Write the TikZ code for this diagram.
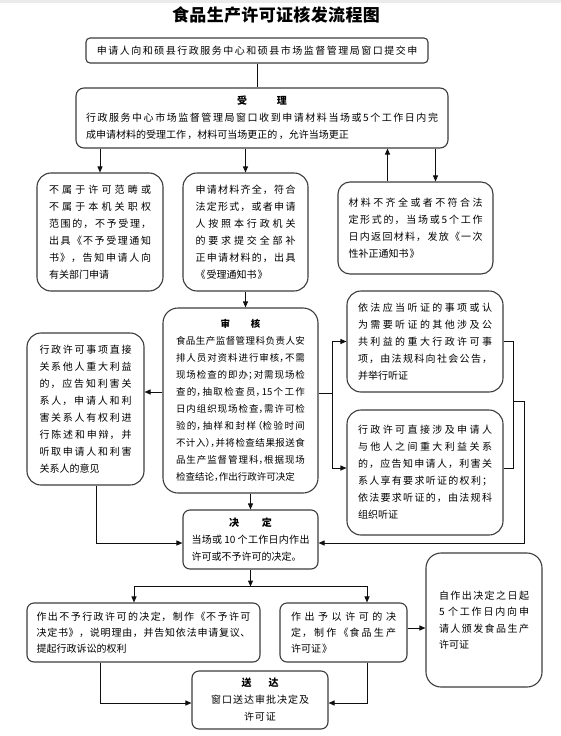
\documentclass[tikz,border=0pt]{standalone}
\usepackage{fontspec}
\usepackage{tikz}
\usetikzlibrary{arrows.meta, calc}
\newfontfamily\cjk[LetterSpace=10]{Noto Sans CJK SC}
\newfontfamily\cjkhalf[RawFeature={+halt}]{Noto Sans CJK SC}
\newcommand{\ls}[1]{\addfontfeature{LetterSpace=#1}}
\newcommand{\boxtitle}[1]{\makebox[\linewidth]{\bfseries #1}\\}
\XeTeXlinebreaklocale "zh"
\XeTeXlinebreakskip=0pt plus 10pt
\definecolor{FlowBorder}{RGB}{60,60,60}
\definecolor{FlowLine}{RGB}{15,15,15}

\begin{document}
\begin{tikzpicture}[
    x=1pt, y=-1pt,
    box/.style={draw=FlowBorder, line width=1.1pt, rounded corners=#1, inner sep=0pt, font=\cjk\fontsize{10}{17}\selectfont},
    box/.default=14pt,
    txt/.style={align=justify, text width=#1},
    arr/.style={-{Triangle[length=6pt, width=5pt]}, line width=0.9pt, FlowLine},
    lin/.style={line width=0.9pt, FlowLine}
]
    \useasboundingbox (0,0) rectangle (561,736);
    \fill[black!8] (0,0) rectangle (561,3);
    \node[font=\cjk\bfseries\fontsize{17}{20}\selectfont\ls{2}] (title) at (276,15) {食品生产许可证核发流程图};
    \node[box=4pt, minimum width=342pt, minimum height=25pt, font=\cjk\fontsize{10}{17}\selectfont\ls{15}] (apply) at (257,50.5) {申请人向和硕县行政服务中心和硕县市场监督管理局窗口提交申};
    \node[box=8pt, txt=352pt, minimum width=372pt, minimum height=60pt, font=\cjk\fontsize{10}{17}\selectfont\ls{14}] (accept) at (262,118)
        {\boxtitle{受\hspace{3em}理}行政服务中心市场监督管理局窗口收到申请材料当场或5个工作日内完\linebreak 成申请材料的受理工作，材料可当场更正的，允许当场更正};
    \node[box, txt=102pt, minimum width=126pt, minimum height=118pt] (reject) at (100,232)
        {不属于许可范畴或\linebreak 不属于本机关职权\linebreak 范围的，不予受理，\linebreak 出具《不予受理通知\linebreak 书》，告知申请人向\linebreak 有关部门申请};
    \node[box, txt=100pt, minimum width=125pt, minimum height=118pt] (accepted) at (245.5,232)
        {申请材料齐全，符合\linebreak 法定形式，或者申请\linebreak 人按照本行政机关\linebreak 的要求提交全部补\linebreak 正申请材料的，出具\linebreak 《受理通知书》};
    \node[box=12pt, txt=134pt, minimum width=155pt, minimum height=92pt] (incomplete) at (415.5,228)
        {材料不齐全或者不符合法\linebreak 定形式的，当场或5个工作\linebreak 日内返回材料，发放《一次\linebreak 性补正通知书》};
    \node[box=15pt, txt=129pt, minimum width=155pt, minimum height=185pt, font=\cjkhalf\fontsize{9.5}{17}\selectfont] (review) at (240.5,400.5)
        {\boxtitle{审\hspace{2.2em}核}食品生产监督管理科负责人安\linebreak 排人员对资料进行审核，不需\linebreak 现场检查的即办；对需现场检\linebreak 查的，抽取检查员，15个工作\linebreak 日内组织现场检查，需许可检\linebreak 验的，抽样和封样（检验时间\linebreak 不计入），并将检查结果报送食\linebreak 品生产监督管理科，根据现场\linebreak 检查结论，作出行政许可决定};
    \node[box, txt=92pt, minimum width=117pt, minimum height=152pt] (notice) at (85.5,409)
        {行政许可事项直接\linebreak 关系他人重大利益\linebreak 的，应告知利害关\linebreak 系人，申请人和利\linebreak 害关系人有权利进\linebreak 行陈述和申辩，并\linebreak 听取申请人和利害\linebreak 关系人的意见};
    \node[box, txt=134pt, minimum width=156pt, minimum height=101pt] (hearA) at (425,341.5)
        {依法应当听证的事项或认\linebreak 为需要听证的其他涉及公\linebreak 共利益的重大行政许可事\linebreak 项，由法规科向社会公告，\linebreak 并举行听证};
    \node[box, txt=134pt, minimum width=156pt, minimum height=125pt] (hearB) at (425,472.5)
        {行政许可直接涉及申请人\linebreak 与他人之间重大利益关系\linebreak 的，应告知申请人，利害关\linebreak 系人享有要求听证的权利；\linebreak 依法要求听证的，由法规科\linebreak 组织听证};
    \node[box=7pt, txt=118pt, minimum width=135pt, minimum height=59pt, font=\cjk\fontsize{10}{17}\selectfont\ls{0}] (decide) at (250.5,539.5)
        {\boxtitle{决\hspace{2.3em}定}当场或 10 个工作日内作出\linebreak 许可或不予许可的决定。};
    \node[box=7pt, txt=214pt, minimum width=233pt, minimum height=59pt, font=\cjk\fontsize{10}{16}\selectfont\ls{5}] (deny) at (143.5,632.5)
        {作出不予行政许可的决定，制作《不予许可\linebreak 决定书》，说明理由，并告知依法申请复议、\linebreak 提起行政诉讼的权利};
    \node[box=7pt, txt=105pt, minimum width=127pt, minimum height=59pt, font=\cjk\fontsize{10}{16}\selectfont] (grant) at (343.5,632.5)
        {作出予以许可的决\linebreak 定，制作《食品生产\linebreak 许可证》};
    \node[box=15pt, txt=90pt, minimum width=116pt, minimum height=134pt, font=\cjk\fontsize{10}{16.5}\selectfont] (issue) at (484,620)
        {自作出决定之日起\linebreak 5 个工作日内向申\linebreak 请人颁发食品生产\linebreak 许可证};
    \node[box=7pt, align=center, minimum width=136pt, minimum height=58pt] (deliver) at (260,700)
        {{\bfseries 送\hspace{1.7em}达}\\窗口送达审批决定及\\许可证};
    \draw[lin] (apply.south) -- (apply.south |- accept.north);
    \draw[arr] (reject.north |- accept.south) -- (reject.north);
    \draw[arr] (accepted.north |- accept.south) -- (accepted.north);
    \coordinate (up) at ($(incomplete.north)+(-28,0)$);
    \coordinate (down) at ($(incomplete.north)+(20,0)$);
    \draw[arr] (up) -- (up |- accept.south);
    \draw[arr] (down |- accept.south) -- (down);
    \draw[arr] (accepted.south) -- (accepted.south |- review.north);
    \coordinate (rl) at ($(review.west)+(0,-8.5)$);
    \draw[arr] (rl) -- (rl -| notice.east);
    \coordinate (fork) at ($(review.east)+(14,-7.5)$);
    \draw[lin] (fork -| review.east) -- (fork);
    \draw[arr] (fork) |- (hearA.west);
    \draw[arr] (fork) |- ($(hearB.west)+(0,-4.5)$);
    \coordinate (merge) at ($(hearA.east)+(10,60)$);
    \draw[lin] (hearA.east) -| (merge);
    \draw[lin] ($(hearB.east)+(0,-4.5)$) -| (merge);
    \draw[arr] (merge) -- ++(11,0) |- ($(decide.east)+(0,3.5)$);
    \draw[arr] ($(notice.south)+(10.5,0)$) |- ($(decide.west)+(0,3.5)$);
    \draw[arr] (decide.north |- review.south) -- (decide.north);
    \coordinate (branch) at ($(decide.south)+(0,17)$);
    \draw[arr] (decide.south) -- (branch);
    \draw[arr] (branch) -| ($(deny.north)+(-9.5,0)$);
    \draw[arr] (branch) -| ($(grant.north)+(23.5,0)$);
    \coordinate (gi) at ($(grant.east)+(0,-4.5)$);
    \draw[arr] (gi) -- (gi -| issue.west);
    \coordinate (gd) at ($(grant.south)+(23.5,0)$);
    \draw[arr] (gd) |- ($(deliver.east)+(0,3)$);
    \coordinate (dd) at ($(deny.south)+(-43.5,0)$);
    \draw[arr] (dd) |- ($(deliver.west)+(0,3)$);
\end{tikzpicture}
\end{document}
